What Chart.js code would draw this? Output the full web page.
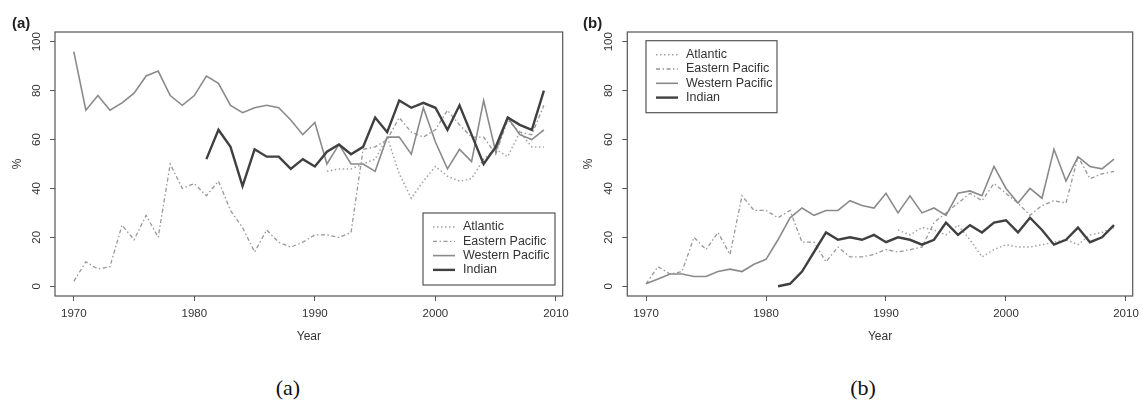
<!DOCTYPE html>
<html>
<head>
<meta charset="utf-8">
<title>Tropical cyclone share by basin</title>
<script src="https://cdn.jsdelivr.net/npm/chart.js@4.4.1/dist/chart.umd.min.js"></script>
<style>
  body { margin: 0; background: #fff; }
  #wrap { position: relative; width: 1143px; height: 406px; font-family: "Liberation Sans", Arial, Helvetica, sans-serif; }
  #wrap canvas { position: absolute; top: 0; }
  .tag { position: absolute; top: 15px; font-weight: bold; font-size: 15px; line-height: 1; color: #222; }
  .cap { position: absolute; top: 377px; width: 60px; text-align: center; font-family: "Liberation Serif", "DejaVu Serif", serif; font-size: 22px; line-height: 1; color: #111; }
</style>
</head>
<body>
<div id="wrap">
  <canvas id="panelA" width="571" height="350" style="left:0"></canvas>
  <canvas id="panelB" width="572" height="350" style="left:571px"></canvas>
  <div class="tag" style="left:12px">(a)</div>
  <div class="tag" style="left:583px">(b)</div>
  <div class="cap" style="left:258px">(a)</div>
  <div class="cap" style="left:833px">(b)</div>
</div>
<script>
const years = [1970, 1971, 1972, 1973, 1974, 1975, 1976, 1977, 1978, 1979,
               1980, 1981, 1982, 1983, 1984, 1985, 1986, 1987, 1988, 1989,
               1990, 1991, 1992, 1993, 1994, 1995, 1996, 1997, 1998, 1999,
               2000, 2001, 2002, 2003, 2004, 2005, 2006, 2007, 2008, 2009];
const xTicks = [1970, 1980, 1990, 2000, 2010];
const yTicks = [0, 20, 40, 60, 80, 100];
const basinNames = ["Atlantic", "Eastern Pacific", "Western Pacific", "Indian"];

// (a)
const atlanticA = [null, null, null, null, null, null, null, null, null, null,
                   null, null, null, null, null, null, null, null, null, null,
                   null, 47, 48, 48, 50, 52, 61, 46, 36, 43,
                   49, 45, 43, 44, 52, 56, 53, 63, 57, 57];
const eastPacA = [2, 10, 7, 8, 25, 19, 29, 20, 50, 40,
                  42, 37, 43, 31, 24, 14, 23, 18, 16, 18,
                  21, 21, 20, 22, 56, 57, 60, 69, 63, 61,
                  64, 72, 66, 61, 61, 54, 68, 63, 62, 74];
const westPacA = [96, 72, 78, 72, 75, 79, 86, 88, 78, 74,
                  78, 86, 83, 74, 71, 73, 74, 73, 68, 62,
                  67, 50, 58, 50, 50, 47, 61, 61, 54, 73,
                  59, 48, 56, 51, 76, 55, 69, 62, 60, 64];
const indianA = [null, null, null, null, null, null, null, null, null, null,
                 null, 52, 64, 57, 41, 56, 53, 53, 48, 52,
                 49, 55, 58, 54, 57, 69, 63, 76, 73, 75,
                 73, 64, 74, 62, 50, 57, 69, 66, 64, 80];

// (b)
const atlanticB = [null, null, null, null, null, null, null, null, null, null,
                   null, null, null, null, null, null, null, null, null, null,
                   null, 23, 21, 24, 23, 21, 25, 19, 12, 15,
                   17, 16, 16, 17, 18, 19, 17, 21, 22, 24];
const eastPacB = [1, 8, 5, 6, 20, 15, 22, 13, 37, 31,
                  31, 28, 31, 18, 18, 10, 16, 12, 12, 13,
                  15, 14, 15, 16, 26, 30, 34, 38, 35, 42,
                  38, 34, 29, 33, 35, 34, 53, 44, 46, 47];
const westPacB = [1, 3, 5, 5, 4, 4, 6, 7, 6, 9,
                  11, 19, 28, 32, 29, 31, 31, 35, 33, 32,
                  38, 30, 37, 30, 32, 29, 38, 39, 37, 49,
                  40, 34, 40, 36, 56, 43, 53, 49, 48, 52];
const indianB = [null, null, null, null, null, null, null, null, null, null,
                 null, 0, 1, 6, 14, 22, 19, 20, 19, 21,
                 18, 20, 19, 17, 19, 26, 21, 25, 22, 26,
                 27, 22, 28, 23, 17, 19, 24, 18, 20, 25];

const FONT = '"Liberation Sans", Arial, Helvetica, sans-serif';

// line look per basin: dotted, dot-dash, plain grey, heavy dark
const styles = [
  { borderColor: "#a2a2a2", borderWidth: 1.5, borderDash: [1.5, 2.5], order: 3 },
  { borderColor: "#979797", borderWidth: 1.3, borderDash: [4, 2.5, 1.5, 2.5], order: 2 },
  { borderColor: "#8a8a8a", borderWidth: 1.6, borderDash: [], order: 1 },
  { borderColor: "#404040", borderWidth: 2.4, borderDash: [], order: 0 },
];

function toPoints(vals) {
  return years.map((yr, i) => ({ x: yr, y: vals[i] }));
}

// plot frame like base R's box()
const frame = {
  id: "frame",
  afterDraw(chart) {
    const { ctx, chartArea: a } = chart;
    ctx.save();
    ctx.strokeStyle = "#555";
    ctx.lineWidth = 1.2;
    ctx.strokeRect(a.left, a.top, a.right - a.left, a.bottom - a.top);
    ctx.restore();
  },
};

// boxed legend drawn inside the plot area
const boxLegend = {
  id: "boxLegend",
  afterDraw(chart, args, opts) {
    const { ctx, chartArea: a } = chart;
    const w = opts.width, h = opts.height;
    const x0 = opts.corner === "br" ? a.right - opts.insetX - w : a.left + opts.insetX;
    const y0 = opts.corner === "br" ? a.bottom - opts.insetY - h : a.top + opts.insetY;
    ctx.save();
    ctx.fillStyle = "#fff";
    ctx.fillRect(x0, y0, w, h);
    ctx.strokeStyle = "#555";
    ctx.lineWidth = 1.2;
    ctx.strokeRect(x0, y0, w, h);
    ctx.font = "12.5px " + FONT;
    ctx.textBaseline = "middle";
    chart.data.datasets.forEach((ds, i) => {
      const y = y0 + 14 + i * 14.3;
      ctx.beginPath();
      ctx.setLineDash(ds.borderDash || []);
      ctx.strokeStyle = ds.borderColor;
      ctx.lineWidth = ds.borderWidth;
      ctx.moveTo(x0 + 10, y);
      ctx.lineTo(x0 + 32, y);
      ctx.stroke();
      ctx.setLineDash([]);
      ctx.fillStyle = "#333";
      ctx.fillText(ds.label, x0 + 40, y);
    });
    ctx.restore();
  },
};

function makePanel(id, series, yAxisWidth, rightPad, legendOpts) {
  const datasets = series.map((vals, i) => ({
    label: basinNames[i],
    data: toPoints(vals),
    pointRadius: 0,
    tension: 0,
    spanGaps: false,
    fill: false,
    ...styles[i],
  }));

  new Chart(document.getElementById(id), {
    type: "line",
    data: { datasets },
    options: {
      responsive: false,
      animation: false,
      events: [],
      layout: { padding: { left: 0, top: 32, right: rightPad, bottom: 0 } },
      scales: {
        x: {
          type: "linear",
          min: 1968.44,
          max: 2010.56,
          afterBuildTicks: (s) => { s.ticks = xTicks.map((v) => ({ value: v })); },
          // fixed axis height; the 2010 label may hang past the frame
          afterFit: (s) => { s.height = 54; s.paddingLeft = 0; s.paddingRight = 0; },
          grid: { display: true, drawOnChartArea: false, drawTicks: true, tickLength: 5, color: "#555" },
          border: { display: false },
          ticks: {
            color: "#333", padding: 6, maxRotation: 0,
            font: { size: 11.5, family: FONT },
            callback: (v) => String(v),
          },
          title: { display: true, text: "Year", color: "#333", font: { size: 12, family: FONT }, padding: { top: 0, bottom: 6 } },
        },
        y: {
          type: "linear",
          min: -4,
          max: 104,
          afterBuildTicks: (s) => { s.ticks = yTicks.map((v) => ({ value: v })); },
          afterFit: (s) => { s.width = yAxisWidth; },
          grid: { display: true, drawOnChartArea: false, drawTicks: true, tickLength: 5, color: "#555" },
          border: { display: false },
          ticks: {
            color: "#333", padding: 4, minRotation: 90, maxRotation: 90, crossAlign: "center",
            font: { size: 11.5, family: FONT },
            callback: (v) => String(v),
          },
          title: { display: true, text: "%", color: "#333", font: { size: 12, family: FONT }, padding: { top: 10, bottom: 0 } },
        },
      },
      plugins: {
        legend: { display: false },
        tooltip: { enabled: false },
        boxLegend: legendOpts,
      },
    },
    plugins: [frame, boxLegend],
  });
}

makePanel("panelA", [atlanticA, eastPacA, westPacA, indianA], 55, 8.3,
  { corner: "br", insetX: 7.7, insetY: 11, width: 132, height: 72 });
makePanel("panelB", [atlanticB, eastPacB, westPacB, indianB], 56.3, 10.3,
  { corner: "tl", insetX: 18.7, insetY: 8.7, width: 131, height: 72 });
</script>
</body>
</html>
